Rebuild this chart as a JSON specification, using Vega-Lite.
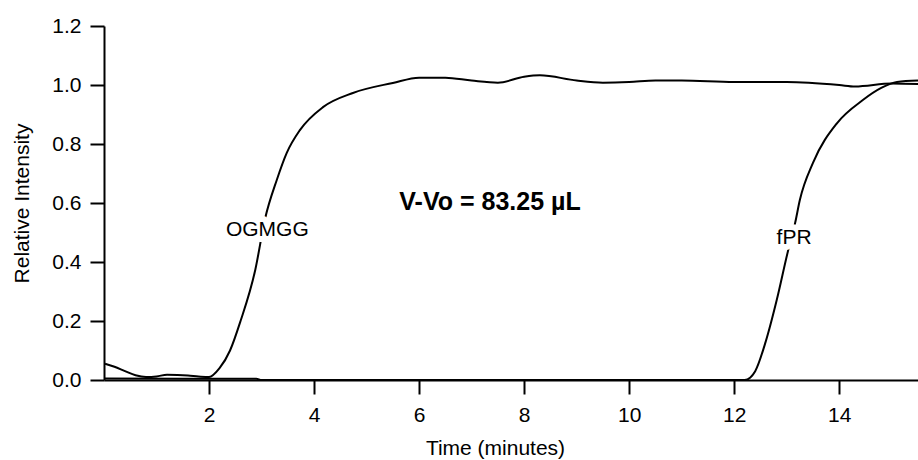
{
  "$schema": "https://vega.github.io/schema/vega-lite/v6.json",
  "autosize": {"type": "none"},
  "padding": {"left": 104, "top": 26, "right": 0, "bottom": 80},
  "width": 814,
  "height": 354,
  "background": "white",
  "config": {
    "view": {"stroke": null},
    "font": "Liberation Sans",
    "axis": {"grid": false, "domainColor": "black", "tickColor": "black", "labelColor": "black", "titleColor": "black", "labelFont": "Liberation Sans", "titleFont": "Liberation Sans", "titleFontWeight": "normal"}
  },
  "datasets": {
    "curves": [
      {"series": "OGMGG", "t": 0.02, "v": 0.055},
      {"series": "OGMGG", "t": 0.2, "v": 0.045},
      {"series": "OGMGG", "t": 0.4, "v": 0.03},
      {"series": "OGMGG", "t": 0.6, "v": 0.016},
      {"series": "OGMGG", "t": 0.8, "v": 0.01},
      {"series": "OGMGG", "t": 1.0, "v": 0.012},
      {"series": "OGMGG", "t": 1.2, "v": 0.018},
      {"series": "OGMGG", "t": 1.4, "v": 0.017},
      {"series": "OGMGG", "t": 1.6, "v": 0.015},
      {"series": "OGMGG", "t": 1.8, "v": 0.012},
      {"series": "OGMGG", "t": 2.0, "v": 0.01},
      {"series": "OGMGG", "t": 2.2, "v": 0.04},
      {"series": "OGMGG", "t": 2.4, "v": 0.1},
      {"series": "OGMGG", "t": 2.6, "v": 0.2},
      {"series": "OGMGG", "t": 2.88, "v": 0.373},
      {"series": "OGMGG", "t": 3.07, "v": 0.549},
      {"series": "OGMGG", "t": 3.29, "v": 0.678},
      {"series": "OGMGG", "t": 3.48, "v": 0.77},
      {"series": "OGMGG", "t": 3.73, "v": 0.847},
      {"series": "OGMGG", "t": 4.17, "v": 0.925},
      {"series": "OGMGG", "t": 4.74, "v": 0.973},
      {"series": "OGMGG", "t": 5.5, "v": 1.007},
      {"series": "OGMGG", "t": 6.0, "v": 1.025},
      {"series": "OGMGG", "t": 6.5, "v": 1.025},
      {"series": "OGMGG", "t": 7.0, "v": 1.015},
      {"series": "OGMGG", "t": 7.5, "v": 1.008},
      {"series": "OGMGG", "t": 8.0, "v": 1.028},
      {"series": "OGMGG", "t": 8.3, "v": 1.033},
      {"series": "OGMGG", "t": 9.0, "v": 1.015},
      {"series": "OGMGG", "t": 9.5, "v": 1.008},
      {"series": "OGMGG", "t": 10.0, "v": 1.01},
      {"series": "OGMGG", "t": 10.5, "v": 1.015},
      {"series": "OGMGG", "t": 11.0, "v": 1.015},
      {"series": "OGMGG", "t": 12.0, "v": 1.01},
      {"series": "OGMGG", "t": 13.0, "v": 1.01},
      {"series": "OGMGG", "t": 14.0, "v": 1.0},
      {"series": "OGMGG", "t": 14.3, "v": 0.995},
      {"series": "OGMGG", "t": 15.0, "v": 1.005},
      {"series": "OGMGG", "t": 15.5, "v": 1.003},
      {"series": "fPR", "t": 0.0, "v": 0.005},
      {"series": "fPR", "t": 1.5, "v": 0.004},
      {"series": "fPR", "t": 2.9, "v": 0.004},
      {"series": "fPR", "t": 3.0, "v": 0.0},
      {"series": "fPR", "t": 12.2, "v": 0.0},
      {"series": "fPR", "t": 12.4, "v": 0.03},
      {"series": "fPR", "t": 12.6, "v": 0.13},
      {"series": "fPR", "t": 12.81, "v": 0.271},
      {"series": "fPR", "t": 13.02, "v": 0.434},
      {"series": "fPR", "t": 13.16, "v": 0.532},
      {"series": "fPR", "t": 13.25, "v": 0.61},
      {"series": "fPR", "t": 13.5, "v": 0.736},
      {"series": "fPR", "t": 13.96, "v": 0.871},
      {"series": "fPR", "t": 14.45, "v": 0.949},
      {"series": "fPR", "t": 14.8, "v": 0.99},
      {"series": "fPR", "t": 15.1, "v": 1.01},
      {"series": "fPR", "t": 15.5, "v": 1.015}
    ],
    "labels": [
      {"t": 3.11, "v": 0.507, "text": "OGMGG"},
      {"t": 13.14, "v": 0.483, "text": "fPR"}
    ],
    "note": [
      {"t": 7.35, "v": 0.602, "text": "V-Vo = 83.25 µL"}
    ]
  },
  "layer": [
    {
      "data": {"name": "curves"},
      "mark": {"type": "line", "color": "black", "strokeWidth": 2, "interpolate": "monotone", "clip": true},
      "encoding": {
        "x": {"field": "t", "type": "quantitative", "scale": {"domain": [0, 15.5], "nice": false, "zero": false},
          "axis": {"values": [2, 4, 6, 8, 10, 12, 14], "title": "Time (minutes)", "labelFontSize": 21, "titleFontSize": 21, "tickSize": 14, "labelPadding": 10, "domainWidth": 2, "tickWidth": 2, "titleX": 391, "titleY": 68, "titleBaseline": "middle"}},
        "y": {"field": "v", "type": "quantitative", "scale": {"domain": [0, 1.2], "nice": false},
          "axis": {"values": [0, 0.2, 0.4, 0.6, 0.8, 1.0, 1.2], "format": ".1f", "title": "Relative Intensity", "labelFontSize": 21, "titleFontSize": 21, "tickSize": 14, "labelPadding": 9, "domainWidth": 2, "tickWidth": 2, "titleX": -82, "titleY": 177, "titleAngle": -90, "titleAlign": "center", "titleBaseline": "middle"}},
        "detail": {"field": "series"}
      }
    },
    {
      "data": {"name": "labels"},
      "mark": {"type": "text", "fontSize": 21, "stroke": "white", "strokeWidth": 12, "strokeJoin": "round", "fill": "white"},
      "encoding": {"x": {"field": "t", "type": "quantitative"}, "y": {"field": "v", "type": "quantitative"}, "text": {"field": "text"}}
    },
    {
      "data": {"name": "labels"},
      "mark": {"type": "text", "fontSize": 21, "color": "black"},
      "encoding": {"x": {"field": "t", "type": "quantitative"}, "y": {"field": "v", "type": "quantitative"}, "text": {"field": "text"}}
    },
    {
      "data": {"name": "note"},
      "mark": {"type": "text", "fontSize": 25, "fontWeight": "bold", "color": "black"},
      "encoding": {"x": {"field": "t", "type": "quantitative"}, "y": {"field": "v", "type": "quantitative"}, "text": {"field": "text"}}
    }
  ]
}
